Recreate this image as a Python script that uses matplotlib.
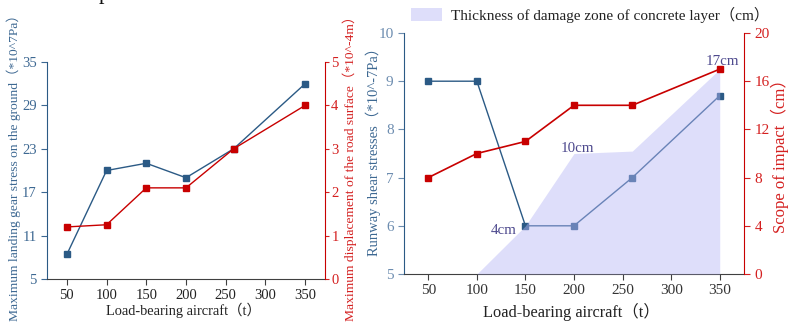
import matplotlib
matplotlib.use("Agg")
import matplotlib.pyplot as plt
from matplotlib.patches import Patch

plt.rcParams['font.family'] = ['Liberation Serif', 'Noto Sans CJK SC']
plt.rcParams['axes.unicode_minus'] = False

# ---- data ----
loads = [50, 100, 150, 200, 260, 350]
xticks = [50, 100, 150, 200, 250, 300, 350]

gear_stress = [8.4, 20, 21, 19, 23, 32]          # *10^7 Pa
road_disp = [1.2, 1.25, 2.1, 2.1, 3.0, 4.0]      # *10^-4 m

shear_stress = [9, 9, 6, 6, 7, 8.7]              # *10^-7 Pa
scope_impact = [8, 10, 11, 14, 14, 17]           # cm
damage_x = [100, 150, 200, 260, 350]
damage_thk = [0, 4, 10, 10.2, 17]                # cm
damage_labels = ["4cm", "10cm", "17cm"]
damage_label_pos = [(128, 3.65), (204, 10.45), (353, 17.6)]

BLUE = '#2b5a85'
BLUE_TXT = '#3d6892'
BLUE_LIGHT = '#6d8db0'
RED = '#c80000'
RED_TXT = '#d42020'
GRAY = '#404040'
ANN = '#4e4a8e'


def set_ylabel_center(ax, x, y):
    ax.yaxis.set_label_coords(x, y)
    ax.yaxis.label.set_verticalalignment('center')
    ax.yaxis.label.set_rotation_mode('anchor')


def set_xlabel_center(ax, x, y):
    ax.xaxis.set_label_coords(x, y)
    ax.xaxis.label.set_verticalalignment('center')


fig = plt.figure(figsize=(7.88, 3.23), dpi=100)

# ---------------- left chart ----------------
L = (47, 62, 325, 279)  # px: left, top, right, bottom
ax1 = fig.add_axes([L[0]/788, 1-L[3]/323, (L[2]-L[0])/788, (L[3]-L[1])/323])
ax1.plot(loads, gear_stress, color=BLUE, lw=1.0, marker='s', ms=4, zorder=3)
ax1.set_xlim(25, 375)
ax1.set_ylim(5, 35)
ax1.set_yticks([5, 11, 17, 23, 29, 35])
ax1.set_xticks(xticks)
ax1.spines['top'].set_visible(False)
ax1.spines['right'].set_visible(False)
ax1.spines['left'].set_color(BLUE)
ax1.spines['bottom'].set_color(GRAY)
ax1.tick_params(axis='y', colors=BLUE_TXT, labelsize=10.5, length=4, direction='out')
ax1.tick_params(axis='x', colors=GRAY, labelcolor='#222222', labelsize=10.5, length=4, direction='out')
ax1.set_ylabel("Maximum landing gear stress on the ground（*10^7Pa）", color=BLUE_TXT, fontsize=9.7)
ax1.set_xlabel("Load-bearing aircraft（t）", color='#222222', fontsize=10.4)
w1, h1 = L[2]-L[0], L[3]-L[1]
set_ylabel_center(ax1, (14-L[0])/w1, (L[3]-165)/h1)
set_xlabel_center(ax1, (183-L[0])/w1, (L[3]-310)/h1)

ax1b = ax1.twinx()
ax1b.plot(loads, road_disp, color=RED, lw=1.0, marker='s', ms=4, zorder=4)
ax1b.set_ylim(0, 5)
ax1b.set_yticks([0, 1, 2, 3, 4, 5])
ax1b.set_xlim(25, 375)
ax1b.spines['top'].set_visible(False)
ax1b.spines['left'].set_visible(False)
ax1b.spines['bottom'].set_visible(False)
ax1b.spines['right'].set_color(RED)
ax1b.tick_params(axis='y', colors=RED_TXT, labelsize=10.5, length=3, pad=1.5, direction='out')
ax1b.set_ylabel("Maximum displacement of the road surface（*10^-4m）", color=RED_TXT, fontsize=9.7)
set_ylabel_center(ax1b, (350-L[0])/w1, (L[3]-165)/h1)

# cut-off title fragment at the top
fig.text(104/788, 1 + 5/323, "p", fontsize=16, ha='center', va='center', color='#111111')

# ---------------- right chart ----------------
R = (404, 33, 744, 274)
ax2 = fig.add_axes([R[0]/788, 1-R[3]/323, (R[2]-R[0])/788, (R[3]-R[1])/323])
ax2.plot(loads, shear_stress, color=BLUE, lw=1.0, marker='s', ms=4, zorder=2)
ax2.set_xlim(25, 375)
ax2.set_ylim(5, 10)
ax2.set_yticks([5, 6, 7, 8, 9, 10])
ax2.set_xticks(xticks)
ax2.spines['top'].set_visible(False)
ax2.spines['right'].set_visible(False)
ax2.spines['left'].set_color(BLUE)
ax2.spines['bottom'].set_color(GRAY)
ax2.tick_params(axis='y', colors=BLUE_LIGHT, labelsize=11, length=4, direction='out')
ax2.tick_params(axis='x', colors=GRAY, labelcolor='#333333', labelsize=11, length=4, direction='out')
ax2.set_ylabel("Runway shear stresses（*10^-7Pa）", color=BLUE_TXT, fontsize=10.5)
ax2.set_xlabel("Load-bearing aircraft（t）", color='#222222', fontsize=11.8)
w2, h2 = R[2]-R[0], R[3]-R[1]
set_ylabel_center(ax2, (373-R[0])/w2, (R[3]-148)/h2)
set_xlabel_center(ax2, (571-R[0])/w2, (R[3]-312)/h2)

ax2b = ax2.twinx()
fill_color = '#b6b6f5'
ax2b.fill_between(damage_x, 0, damage_thk, color=fill_color, alpha=0.45, lw=0, zorder=1)
ax2b.plot(loads, scope_impact, color=RED, lw=1.2, marker='s', ms=4, zorder=3)
for (x, y), s in zip(damage_label_pos, damage_labels):
    ax2b.text(x, y, s, color=ANN, fontsize=10.8, ha='center', va='center')
ax2b.set_ylim(0, 20)
ax2b.set_yticks([0, 4, 8, 12, 16, 20])
ax2b.set_xlim(25, 375)
ax2b.spines['top'].set_visible(False)
ax2b.spines['left'].set_visible(False)
ax2b.spines['bottom'].set_visible(False)
ax2b.spines['right'].set_color(RED)
ax2b.tick_params(axis='y', colors=RED_TXT, labelsize=11, length=4, direction='out')
ax2b.set_ylabel("Scope of impact（cm）", color=RED_TXT, fontsize=12)
set_ylabel_center(ax2b, (780-R[0])/w2, (R[3]-152)/h2)

handle = Patch(facecolor=fill_color, alpha=0.45, edgecolor='none')
fig.legend([handle], ["Thickness of damage zone of concrete layer（cm）"],
           loc='center left', bbox_to_anchor=(411/788, 1-15/323), frameon=False,
           fontsize=11, handlelength=2.0, handleheight=0.9, handletextpad=0.6,
           labelcolor='#222222', borderaxespad=0, borderpad=0)

fig.savefig("out.png", dpi=100)
